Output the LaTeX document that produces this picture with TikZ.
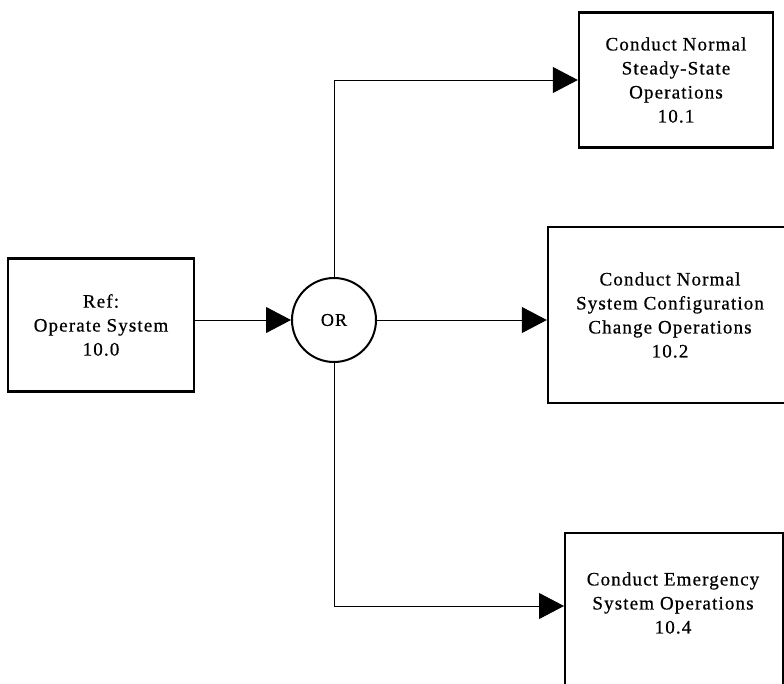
\documentclass[tikz,border=0pt]{standalone}
\usepackage{fontspec}
\setmainfont{Liberation Serif}[LetterSpace=6, FakeBold=0.6]
\usetikzlibrary{arrows.meta}
\begin{document}
\begin{tikzpicture}[x=1pt,y=-1pt,
  box/.style={draw, line width=2.4pt, rectangle, inner sep=0pt},
  lbl/.style={align=center, font=\fontsize{19}{24}\selectfont},
  orgate/.style={draw, circle, line width=2pt, minimum size=84pt, inner sep=0pt, font=\fontsize{18}{20}\selectfont},
  link/.style={line width=0.8pt, -{Triangle[length=25pt,width=26pt]}}]
\useasboundingbox (0,0) rectangle (784,683);
\clip (0,0) rectangle (784,683);

% function blocks
\node[box, minimum width=186pt, minimum height=133pt, lbl] (b0) at (101,325) {Ref:\\Operate System\\10.0};
\node[box, minimum width=194pt, minimum height=135pt, lbl] (b1) at (676,80) {Conduct Normal\\Steady-State\\Operations\\10.1};
\node[box, minimum width=244pt, minimum height=176pt, lbl] (b2) at (670,315) {Conduct Normal\\System Configuration\\Change Operations\\10.2};
\node[box, minimum width=218pt, minimum height=180pt, anchor=north west] (b4) at (564,532) {};
\node[lbl] (t4) at (673,603) {Conduct Emergency\\System Operations\\10.4};

% OR junction
\node[orgate] (or) at (334,320) {OR};

% connectors
\draw[link] (b0.east |- or.west) -- (or.west);
\draw[link] (or.north) |- (b1.west);
\draw[link] (or.east) -- (or.east -| b2.west);
\draw[link] (or.south) |- (b4.west |- 0,606);
\end{tikzpicture}
\end{document}
